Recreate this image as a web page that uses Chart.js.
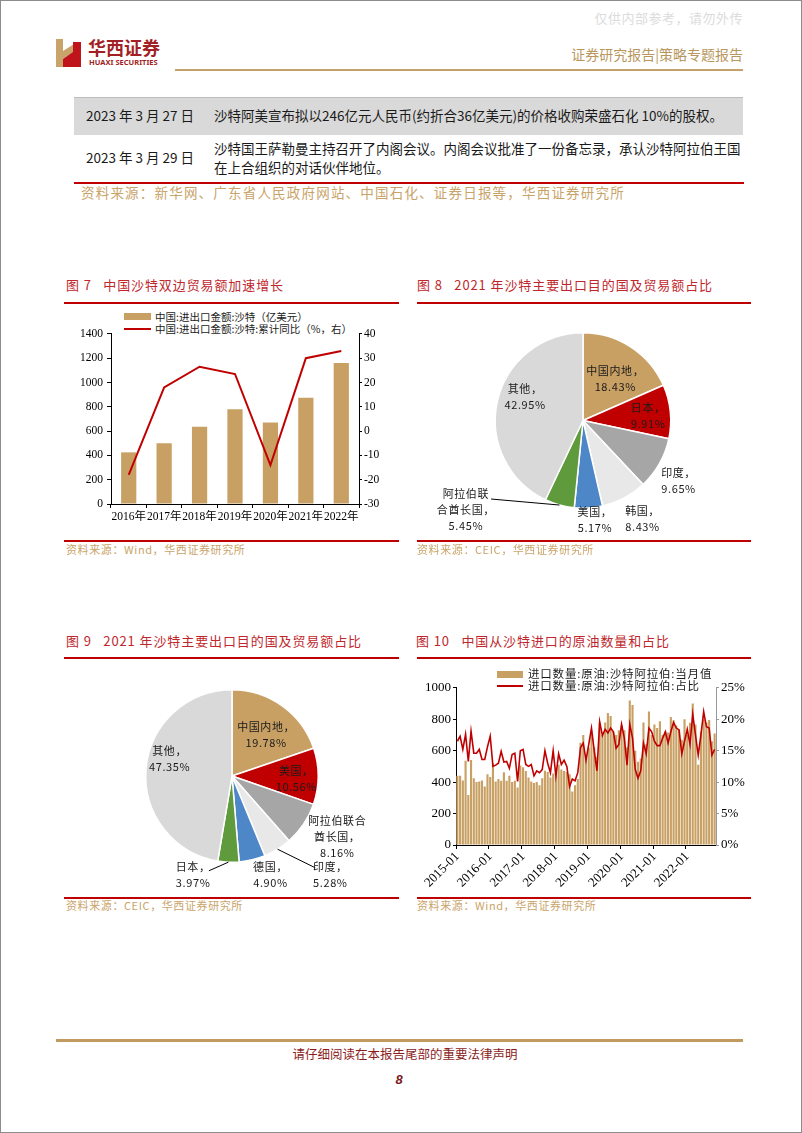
<!DOCTYPE html>
<html>
<head>
<meta charset="utf-8">
<script src="https://cdn.jsdelivr.net/npm/chart.js@4.4.0/dist/chart.umd.min.js"></script>
<style>
  body { margin: 0; background: #fff; }
  #page { position: relative; width: 800px; height: 1131px; border: 1px solid #8c8c8c; overflow: hidden;
          font-family: "Noto Sans CJK SC", sans-serif; color: #1a1a1a; }
  .t { position: absolute; white-space: nowrap; line-height: 1; }
  .bar { position: absolute; }
  .title { color: #c0272d; font-size: 13px; letter-spacing: .9px; }
  .src { color: #c9a46a; font-size: 11px; letter-spacing: .6px; }
  .box { position: absolute; }
  .lg { font-size: 10.5px; letter-spacing: 0; color: #1a1a1a; }
</style>
</head>
<body>
<div id="page">
  <!-- 页眉 -->
  <div class="t" style="right:58px;top:10px;font-size:13px;color:#dcdcdc;letter-spacing:.5px">仅供内部参考，请勿外传</div>
  <svg class="box" style="left:55px;top:38px" width="25" height="28" viewBox="0 0 25 28">
    <rect x="0" y="0" width="7" height="28" fill="#c9a46a"/>
    <polygon points="7,12 18,5 18,13 7,20" fill="#c9a46a"/>
    <rect x="17" y="3" width="8" height="25" fill="#c0141c"/>
    <polygon points="7,20 17,13 17,28 7,28" fill="#c0141c"/>
  </svg>
  <div class="t" style="left:87px;top:37px;font-size:18px;font-weight:bold;color:#a11f25">华西证券</div>
  <div class="t" style="left:88px;top:58px;font-size:7.5px;font-family:'Noto Sans';font-weight:bold;color:#a11f25">HUAXI SECURITIES</div>
  <div class="t" style="right:58px;top:46px;font-size:14px;color:#b8975e">证券研究报告|策略专题报告</div>
  <div class="bar" style="left:174px;top:68px;width:568px;height:2px;background:#c2a16a"></div>

  <!-- 表格 -->
  <div class="bar" style="left:73px;top:96px;width:669px;height:37px;background:#d9d9d9;border-top:1px solid #bdbdbd"></div>
  <div class="t" style="left:85px;top:108px;font-size:13.5px">2023 年 3 月 27 日</div>
  <div class="t" style="left:213px;top:108px;font-size:13.5px">沙特阿美宣布拟以246亿元人民币(约折合36亿美元)的价格收购荣盛石化 10%的股权。</div>
  <div class="t" style="left:85px;top:150px;font-size:13.5px">2023 年 3 月 29 日</div>
  <div class="t" style="left:213px;top:141px;font-size:13.5px">沙特国王萨勒曼主持召开了内阁会议。内阁会议批准了一份备忘录，承认沙特阿拉伯王国</div>
  <div class="t" style="left:213px;top:160px;font-size:13.5px">在上合组织的对话伙伴地位。</div>
  <div class="bar" style="left:73px;top:181px;width:670px;height:2px;background:#c00000"></div>
  <div class="t" style="left:80px;top:185px;font-size:13.5px;color:#c9a46a;letter-spacing:1.2px">资料来源：新华网、广东省人民政府网站、中国石化、证券日报等，华西证券研究所</div>

  <!-- 图7 -->
  <div class="t title" style="left:65px;top:277px">图 7&nbsp;&nbsp;&nbsp;中国沙特双边贸易额加速增长</div>
  <div class="bar" style="left:63px;top:301px;width:335px;height:2px;background:#c00000"></div>
  <div class="box" style="left:123px;top:312px;width:27px;height:7px;background:#c8a064"></div>
  <div class="t lg" style="left:154px;top:311px">中国:进出口金额:沙特（亿美元）</div>
  <div class="box" style="left:123px;top:327px;width:27px;height:2px;background:#c00000"></div>
  <div class="t lg" style="left:154px;top:323px">中国:进出口金额:沙特:累计同比（%，右）</div>
  <div class="box" style="left:60px;top:322px;width:340px;height:205px"><canvas id="tradeChart"></canvas></div>
  <div class="bar" style="left:63px;top:539px;width:335px;height:2px;background:#c00000"></div>
  <div class="t src" style="left:65px;top:543px">资料来源：Wind，华西证券研究所</div>

  <!-- 图8 -->
  <div class="t title" style="left:416px;top:277px">图 8&nbsp;&nbsp;&nbsp;2021 年沙特主要出口目的国及贸易额占比</div>
  <div class="bar" style="left:416px;top:301px;width:334px;height:2px;background:#c00000"></div>
  <div class="box" style="left:416px;top:310px;width:334px;height:230px"><canvas id="pie8"></canvas></div>
  <div class="bar" style="left:416px;top:539px;width:334px;height:2px;background:#c00000"></div>
  <div class="t src" style="left:416px;top:543px">资料来源：CEIC，华西证券研究所</div>

  <!-- 图9 -->
  <div class="t title" style="left:65px;top:633px">图 9&nbsp;&nbsp;&nbsp;2021 年沙特主要出口目的国及贸易额占比</div>
  <div class="bar" style="left:63px;top:656px;width:335px;height:2px;background:#c00000"></div>
  <div class="box" style="left:63px;top:665px;width:335px;height:230px"><canvas id="pie9"></canvas></div>
  <div class="bar" style="left:63px;top:896px;width:335px;height:2px;background:#c00000"></div>
  <div class="t src" style="left:65px;top:899px">资料来源：CEIC，华西证券研究所</div>

  <!-- 图10 -->
  <div class="t title" style="left:415px;top:633px">图 10&nbsp;&nbsp;&nbsp;中国从沙特进口的原油数量和占比</div>
  <div class="bar" style="left:416px;top:656px;width:334px;height:2px;background:#c00000"></div>
  <div class="box" style="left:410px;top:677px;width:340px;height:215px"><canvas id="oilChart"></canvas></div>
  <div class="box" style="left:496px;top:670px;width:26px;height:7px;background:#c8a064"></div>
  <div class="t lg" style="left:527px;top:667px;font-size:11.5px;letter-spacing:.8px">进口数量:原油:沙特阿拉伯:当月值</div>
  <div class="box" style="left:496px;top:684px;width:26px;height:2px;background:#c00000"></div>
  <div class="t lg" style="left:527px;top:679px;font-size:11.5px;letter-spacing:.8px">进口数量:原油:沙特阿拉伯:占比</div>
  <div class="bar" style="left:416px;top:896px;width:334px;height:2px;background:#c00000"></div>
  <div class="t src" style="left:416px;top:899px">资料来源：Wind，华西证券研究所</div>

  <!-- 页脚 -->
  <div class="bar" style="left:55px;top:1038px;width:687px;height:3px;background:#c09a5e"></div>
  <div class="t" style="left:0;width:808px;text-align:center;top:1047px;font-size:12.5px;color:#8b1c1c">请仔细阅读在本报告尾部的重要法律声明</div>
  <div class="t" style="left:0;width:796px;text-align:center;top:1072px;font-size:13px;font-weight:bold;font-style:italic;font-family:'Liberation Sans';color:#7a1a1a">8</div>
</div>

<script>
// ── 数据 ────────────────────────────────────────────────────────────────
const tradeYears  = ['2016年', '2017年', '2018年', '2019年', '2020年', '2021年', '2022年'];
const tradeAmount = [425, 500, 635, 780, 670, 875, 1160];     // 亿美元
const tradeYoY    = [-18, 18, 26.5, 23.5, -14, 30, 33];       // %，右轴

const pie8Names  = ['中国内地', '日本', '印度', '韩国', '美国', '阿拉伯联合酋长国', '其他'];
const pie8Shares = [18.43, 9.91, 9.65, 8.43, 5.17, 5.45, 42.95];
const pie9Names  = ['中国内地', '美国', '阿拉伯联合酋长国', '印度', '德国', '日本', '其他'];
const pie9Shares = [19.78, 10.56, 8.16, 5.28, 4.90, 3.97, 47.35];
const PIE_COLORS = ['#c8a064', '#c00000', '#a6a6a6', '#e8e8e8', '#4d87c7', '#5f9b3c', '#d9d9d9'];

// 进口数量:原油:沙特阿拉伯 当月值（万吨），2015-01 ~ 2022-11
const oilVolume = [
  440, 440, 410, 536, 318, 540, 425, 400, 404, 410, 372, 450,   // 2015
  432, 520, 404, 420, 408, 463, 408, 440, 400, 408, 365, 505,   // 2016
  495, 470, 430, 404, 395, 400, 380, 425, 472, 465, 430, 455,   // 2017
  470, 510, 480, 470, 465, 450, 340, 380, 420, 650, 700, 560,   // 2018
  620, 710, 620, 560, 780, 700, 780, 840, 820, 720, 700, 730,   // 2019
  760, 730, 620, 920, 890, 600, 530, 550, 780, 640, 850, 700,   // 2020
  767, 745, 788, 700, 724, 715, 814, 793, 760, 735, 670, 800,   // 2021
  700, 778, 900, 767, 510, 720, 800, 780, 795, 660, 710,        // 2022
];
// 占比（%）
const oilShare = [
  16.5, 17.3, 15.2, 17.6, 13.3, 18.1, 14.6, 14.6, 15.2, 13.6, 13.6, 15.6,
  17.3, 12.5, 12.7, 13.0, 14.9, 13.2, 13.3, 12.2, 14.4, 14.6, 10.1, 15.0,
  15.2, 12.8, 12.5, 12.8, 11.0, 11.8, 11.5, 12.0, 15.0, 13.0, 11.5, 15.0,
  11.0, 14.5, 12.8, 13.5, 12.5, 9.3, 10.5, 10.2, 11.5, 15.5, 16.2, 13.5,
  16.0, 18.6, 15.0, 11.8, 19.6, 17.4, 18.4, 17.8, 18.6, 18.0, 15.4, 16.0,
  19.2, 17.0, 12.7, 19.2, 17.0, 12.0, 10.6, 11.8, 16.2, 14.5, 18.6, 18.0,
  16.5, 15.8, 15.8, 17.0, 18.0, 16.2, 18.0, 19.5, 18.6, 18.3, 14.5, 16.5,
  18.4, 16.0, 20.8, 17.5, 14.3, 17.5, 21.2, 18.8, 18.6, 14.3, 15.2,
];
const oilMonths = [];
for (let y = 2015; y <= 2022; y++)
  for (let m = 1; m <= 12; m++)
    if (oilMonths.length < oilVolume.length) oilMonths.push(`${y}-${String(m).padStart(2, '0')}`);

// ── 通用 ─────────────────────────────────────────────────────────────────
Chart.defaults.font.family = "'Liberation Serif', 'Noto Sans CJK SC', serif";
Chart.defaults.color = '#000';
Chart.defaults.animation = false;

const RED  = '#c00000';
const GOLD = '#c8a064';
const plain = v => String(v);
const axis = (tickLength, color = '#000') => ({
  grid:   { drawOnChartArea: false, tickLength, color, tickColor: color },
  border: { color, width: 1 },
});

// ── 图7 ─────────────────────────────────────────────────────────────────
new Chart(document.getElementById('tradeChart'), {
  type: 'bar',
  data: {
    labels: tradeYears,
    datasets: [
      { type: 'line', data: tradeYoY, yAxisID: 'y1', borderColor: RED, borderWidth: 2, pointRadius: 0, tension: 0, order: 0 },
      { data: tradeAmount, yAxisID: 'y', backgroundColor: GOLD, categoryPercentage: 0.86, barPercentage: 0.5, order: 1 },
    ],
  },
  options: {
    responsive: true, maintainAspectRatio: false,
    layout: { padding: { top: 3, left: 0, right: 0, bottom: 0 } },
    plugins: { legend: { display: false }, tooltip: { enabled: false } },
    scales: {
      x: { ...axis(4), ticks: { font: { size: 11.5 }, padding: 2, maxRotation: 0, autoSkip: false },
           afterFit: s => { s.height = 24; } },
      y: { ...axis(4), position: 'left', min: 0, max: 1400,
           ticks: { stepSize: 200, font: { size: 11.5 }, padding: 4, callback: plain },
           afterFit: s => { s.width = 50; } },
      y1: { ...axis(3), position: 'right', min: -30, max: 40,
            ticks: { stepSize: 10, font: { size: 11.5 }, padding: 2, callback: plain },
            afterFit: s => { s.width = 42; } },
    },
  },
});

// ── 饼图标注 ──────────────────────────────────────────────────────────────
const pieLabels = {
  id: 'pieLabels',
  afterDatasetsDraw(chart, _args, opts) {
    const { ctx } = chart;
    const names  = chart.data.labels;
    const values = chart.data.datasets[0].data;
    ctx.save();
    ctx.font = "11px 'Noto Sans CJK SC'";
    ctx.letterSpacing = '0.6px';
    ctx.fillStyle = '#1a1a1a';
    ctx.textAlign = 'center';
    ctx.textBaseline = 'middle';
    chart.getDatasetMeta(0).data.forEach((arc, i) => {
      const p = opts.place[i];
      const { x, y, startAngle, endAngle, outerRadius } =
        arc.getProps(['x', 'y', 'startAngle', 'endAngle', 'outerRadius'], true);
      const mid = (startAngle + endAngle) / 2;
      const polar = (r, deg) => {
        const a = deg === undefined ? mid : (deg - 90) * Math.PI / 180;
        return [x + Math.cos(a) * outerRadius * r, y + Math.sin(a) * outerRadius * r];
      };
      if (p.line) {
        const [ex, ey] = polar(1);
        const [lx, ly] = polar(p.line[0], p.line[1]);
        ctx.strokeStyle = '#000';
        ctx.lineWidth = 1;
        ctx.beginPath(); ctx.moveTo(ex, ey); ctx.lineTo(lx, ly); ctx.stroke();
      }
      const [tx, ty] = polar(p.r, p.a);
      const name = names[i];
      const head = p.wrap ? [name.slice(0, p.wrap), name.slice(p.wrap)] : [name];
      head[head.length - 1] += '，';
      const lines = [...head, values[i].toFixed(2) + '%'];
      lines.forEach((s, k) => ctx.fillText(s, tx, ty + (k - (lines.length - 1) / 2) * 16));
    });
    ctx.restore();
  },
};

function pie(id, names, shares, place, padding) {
  new Chart(document.getElementById(id), {
    type: 'pie',
    data: { labels: names, datasets: [{ data: shares, backgroundColor: PIE_COLORS, borderColor: '#fff', borderWidth: 1.5 }] },
    options: {
      responsive: true, maintainAspectRatio: false,
      layout: { padding },
      plugins: { legend: { display: false }, tooltip: { enabled: false }, pieLabels: { place } },
    },
    plugins: [pieLabels],
  });
}

pie('pie8', pie8Names, pie8Shares, [
  { r: 0.60, a: 37.8 },
  { r: 0.745, a: 85.6 },
  { r: 1.287, a: 122.2 },
  { r: 1.306, a: 148.7 },
  { r: 1.136, a: 173.1 },
  { r: 1.678, a: 232.7, wrap: 4, line: [1.378, 229.5] },
  { r: 0.711, a: 292 },
], { left: 77, right: 79, top: 21, bottom: 32 });

pie('pie9', pie9Names, pie9Shares, [
  { r: 0.616, a: 40 },
  { r: 0.746, a: 92.2 },
  { r: 1.409, a: 120, wrap: 5 },
  { r: 1.615, a: 135.1, line: [1.436, 137.8] },
  { r: 1.228, a: 158.7 },
  { r: 1.23, a: 201.5, line: [1.131, 193.7] },
  { r: 0.749, a: 285.2 },
], { left: 81, right: 80, top: 22, bottom: 32 });

// ── 图10 ────────────────────────────────────────────────────────────────
const isJan = i => oilMonths[i] && oilMonths[i].endsWith('-01');

new Chart(document.getElementById('oilChart'), {
  type: 'bar',
  data: {
    labels: oilMonths,
    datasets: [
      { type: 'line', data: oilShare, yAxisID: 'y1', borderColor: RED, borderWidth: 1.6, pointRadius: 0, tension: 0, order: 0 },
      { data: oilVolume, yAxisID: 'y', backgroundColor: GOLD, categoryPercentage: 1, barPercentage: 0.78, order: 1 },
    ],
  },
  options: {
    responsive: true, maintainAspectRatio: false,
    layout: { padding: { top: 4, left: 0, right: 0, bottom: 0 } },
    plugins: { legend: { display: false }, tooltip: { enabled: false } },
    scales: {
      x: {
        grid: { drawOnChartArea: false, tickLength: 4,
                color: c => isJan(c.index) ? '#000' : 'rgba(0,0,0,0)',
                tickColor: c => isJan(c.index) ? '#000' : 'rgba(0,0,0,0)' },
        border: { color: '#000', width: 1 },
        ticks: { autoSkip: false, minRotation: 45, maxRotation: 45, padding: 0, font: { size: 13 },
                 callback: (v, i) => isJan(i) ? oilMonths[i] : '' },
        afterFit: s => { s.height = 48; },
      },
      y: { ...axis(3), position: 'left', min: 0, max: 1000,
           ticks: { stepSize: 100, font: { size: 13 }, padding: 2, callback: plain },
           afterFit: s => { s.width = 45; } },
      y1: { ...axis(3, '#999'), position: 'right', min: 0, max: 25,
            ticks: { stepSize: 5, font: { size: 13 }, padding: 2, color: '#000', callback: v => v + '%' },
            afterFit: s => { s.width = 35; } },
    },
  },
});
</script>
</body>
</html>
